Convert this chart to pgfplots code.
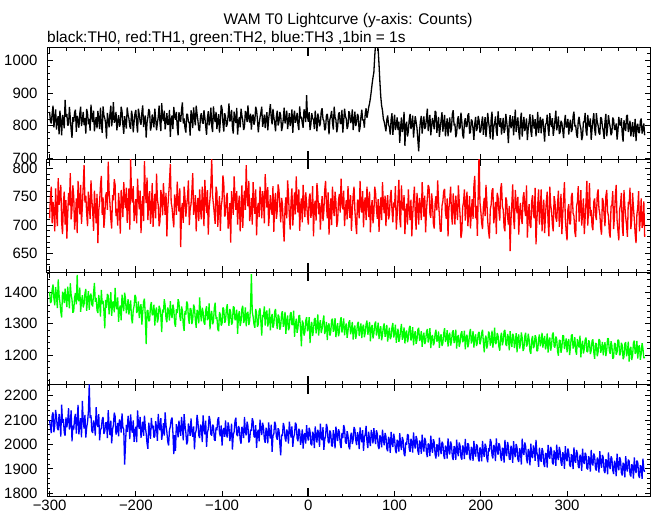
\documentclass[border=0pt]{standalone}
\usepackage{pgfplots}
\usepackage{pgfplotstable}
\pgfplotsset{compat=1.18}
\usepackage{fontspec}
\setmainfont{Liberation Sans}

\pgfplotstableread{
x a b c d
-300 842 712 1402 2098
-299 813 751 1366 2072
-298 807 768 1371 2046
-297 838 703 1409 2119
-296 861 741 1425 2131
-295 795 727 1381 2050
-294 822 689 1359 2077
-293 850 765 1417 2141
-292 788 722 1388 2112
-291 817 698 1350 2067
-290 829 783 1441 2058
-289 774 736 1393 2125
-288 846 748 1367 2089
-287 810 771 1338 2032
-286 771 705 1320 2163
-285 833 684 1402 2088
-284 815 739 1395 2104
-283 792 759 1366 2049
-282 879 701 1412 2036
-281 827 744 1380 2110
-280 836 676 1353 2070
-279 801 718 1418 2096
-278 803 757 1386 2148
-277 857 735 1349 2061
-276 824 792 1429 2082
-275 789 710 1392 2139
-274 763 729 1377 2013
-273 826 770 1335 2077
-272 812 751 1341 2061
-271 840 692 1384 2108
-270 849 714 1398 2125
-269 781 747 1362 2044
-268 830 686 1456 2094
-267 818 778 1378 2162
-266 794 744 1372 2041
-265 837 719 1415 2083
-264 858 771 1338 2107
-263 799 702 1370 2029
-262 817 733 1391 2178
-261 842 769 1352 2097
-260 802 806 1363 2065
-259 823 740 1397 2121
-258 776 752 1411 2028
-257 851 721 1341 2069
-256 838 698 1378 2091
-255 804 759 1404 2134
-254 821 737 1344 2245
-253 785 711 1388 2108
-252 864 779 1396 2119
-251 828 745 1361 2055
-250 811 724 1355 2047
-249 846 690 1399 2098
-248 783 761 1430 2083
-247 809 732 1370 2036
-246 826 703 1382 2152
-245 792 755 1343 2089
-244 845 668 1334 2071
-243 819 726 1392 2124
-242 790 741 1367 2017
-241 855 770 1323 2060
-240 808 787 1408 2066
-239 778 718 1364 2101
-238 859 749 1373 2112
-237 831 695 1340 2043
-236 823 716 1285 2054
-235 806 752 1376 2088
-234 761 758 1351 2090
-233 839 727 1395 2026
-232 818 812 1389 2140
-231 795 760 1330 2075
-230 837 738 1362 2038
-229 861 711 1401 2097
-228 798 694 1325 2004
-227 824 753 1367 2061
-226 872 744 1371 2079
-225 809 781 1336 2130
-224 816 771 1414 2115
-223 842 716 1359 2040
-222 786 729 1346 2057
-221 814 699 1384 2088
-220 832 757 1306 2033
-219 797 734 1349 2102
-218 805 685 1358 2094
-217 858 762 1311 2048
-216 844 742 1393 2127
-215 803 714 1362 2070
-214 775 776 1340 2062
-213 829 745 1399 1917
-212 813 730 1381 1998
-211 791 766 1333 2080
-210 856 704 1352 2051
-209 833 737 1378 2117
-208 822 765 1329 2086
-207 798 692 1356 2022
-206 791 818 1374 2123
-205 846 751 1318 2066
-204 829 740 1301 2048
-203 780 769 1343 2098
-202 811 707 1357 2011
-201 837 724 1392 2054
-200 848 746 1385 2072
-199 806 703 1334 2009
-198 779 782 1343 2139
-197 852 749 1371 2083
-196 834 728 1318 2064
-195 813 761 1350 2112
-194 803 686 1362 2027
-193 840 730 1297 2062
-192 862 751 1337 2093
-191 796 707 1370 2035
-190 819 813 1380 2118
-189 831 759 1322 2071
-188 764 739 1235 2045
-187 809 784 1341 2004
-186 826 709 1343 1982
-185 851 743 1308 2089
-184 843 760 1311 2056
-183 785 702 1356 2023
-182 798 726 1369 2108
-181 834 774 1327 2066
-180 817 697 1332 2077
-179 795 738 1361 2028
-178 852 755 1294 2033
-177 823 712 1339 2095
-176 786 791 1352 2069
-175 808 746 1304 2015
-174 827 735 1316 2125
-173 861 698 1357 2072
-172 809 706 1348 2058
-171 784 762 1325 2107
-170 869 749 1273 2019
-169 826 717 1345 2049
-168 814 774 1336 2087
-167 846 743 1378 2036
-166 789 718 1359 2131
-165 812 757 1316 2078
-164 838 680 1305 2050
-163 803 729 1352 2011
-162 805 752 1341 1996
-161 848 776 1310 2059
-160 766 808 1372 2073
-159 819 740 1333 2101
-158 831 731 1318 2110
-157 790 712 1361 2047
-156 857 696 1347 1960
-155 830 754 1302 2038
-154 818 743 1290 1974
-153 842 718 1346 2083
-152 796 777 1334 2066
-151 771 741 1378 2029
-150 841 724 1368 2097
-149 823 765 1323 2060
-148 812 661 1309 2035
-147 849 727 1355 2112
-146 871 739 1342 2071
-145 807 704 1296 2017
-144 822 768 1277 2124
-143 793 749 1340 2078
-142 779 715 1329 2049
-141 836 735 1371 2000
-140 834 751 1363 2012
-139 812 779 1318 2086
-138 809 700 1300 2064
-137 770 728 1349 2035
-136 847 737 1347 2106
-135 828 761 1299 2052
-134 793 792 1314 2031
-133 856 718 1361 2074
-132 823 729 1352 1980
-131 801 753 1312 2045
-130 861 689 1287 2058
-129 836 734 1344 2121
-128 815 748 1336 2093
-127 788 707 1301 2037
-126 784 763 1384 2026
-125 829 726 1332 2081
-124 838 710 1308 2072
-123 812 768 1351 2010
-122 806 741 1338 2119
-121 847 698 1304 2062
-120 826 780 1297 2041
-119 799 745 1342 2097
-118 772 721 1356 1990
-117 823 762 1311 2048
-116 844 683 1319 2063
-115 801 730 1365 2116
-114 817 746 1282 2101
-113 855 771 1326 2042
-112 799 817 1341 2036
-111 781 752 1298 2081
-110 859 736 1306 2074
-109 826 720 1350 2020
-108 811 702 1367 2015
-107 842 768 1315 2069
-106 790 759 1321 2058
-105 816 697 1283 2102
-104 835 728 1276 2111
-103 779 751 1337 2047
-102 814 690 1329 2033
-101 863 733 1294 2078
-100 852 744 1301 1995
-99 807 788 1352 2054
-98 782 773 1346 2067
-97 838 715 1303 2031
-96 828 719 1309 2098
-95 797 749 1346 2043
-94 805 757 1362 2028
-93 830 694 1318 2090
-92 868 708 1293 2071
-91 813 739 1347 2014
-90 819 669 1336 2040
-89 848 760 1297 2085
-88 795 742 1304 1979
-87 776 718 1355 2039
-86 843 786 1352 2052
-85 820 749 1311 2096
-84 808 727 1318 2109
-83 854 760 1345 2041
-82 773 701 1268 2034
-81 809 735 1326 2075
-80 827 752 1340 2066
-79 795 689 1293 2019
-78 852 723 1307 2003
-77 831 770 1348 2072
-76 816 695 1357 2059
-75 787 741 1302 2026
-74 797 761 1313 2112
-73 845 727 1352 2051
-72 835 806 1292 2037
-71 811 750 1331 2093
-70 862 733 1338 2075
-69 822 778 1296 2008
-68 810 707 1309 2018
-67 837 722 1352 2060
-66 788 748 1458 2056
-65 826 701 1338 2107
-64 834 776 1322 2094
-63 803 741 1298 2032
-62 815 720 1287 2029
-61 858 763 1347 2079
-60 847 682 1333 1986
-59 819 729 1290 2047
-58 780 739 1298 2060
-57 806 714 1341 2013
-56 825 768 1349 2101
-55 840 748 1305 2062
-54 858 712 1262 2038
-53 797 760 1328 2089
-52 812 746 1321 2070
-51 834 703 1355 2022
-50 793 790 1294 2007
-49 822 756 1336 2068
-48 841 731 1342 2047
-47 786 767 1291 2004
-46 819 698 1308 2090
-45 843 724 1349 2045
-44 866 753 1279 2024
-43 825 730 1316 2081
-42 804 718 1331 1970
-41 851 769 1287 2035
-40 827 688 1297 2043
-39 808 741 1338 2093
-38 783 757 1347 2082
-37 829 711 1306 2030
-36 846 726 1283 2019
-35 801 772 1329 2066
-34 812 761 1322 2058
-33 842 733 1281 2001
-32 831 705 1293 1955
-31 784 748 1332 2040
-30 797 737 1340 2035
-29 821 697 1290 2088
-28 855 671 1303 2071
-27 807 731 1338 2026
-26 822 749 1268 2012
-25 846 712 1312 2061
-24 790 779 1326 2049
-23 815 754 1279 2003
-22 838 716 1288 2093
-21 799 692 1330 2057
-20 813 743 1337 2028
-19 850 765 1296 2074
-18 778 699 1299 1990
-17 826 728 1342 2030
-16 846 758 1258 2042
-15 809 719 1297 2089
-14 818 786 1316 2081
-13 839 740 1271 2025
-12 803 722 1287 2013
-11 787 763 1325 2064
-10 859 690 1327 2055
-9 822 731 1281 1998
-8 827 747 1228 2022
-7 808 705 1310 2061
-6 794 771 1302 1983
-5 850 736 1262 2038
-4 836 714 1273 2046
-3 811 758 1310 2003
-2 893 739 1321 2079
-1 829 717 1276 2035
0 812 701 1289 2016
1 841 748 1321 2068
2 787 756 1238 2053
3 805 713 1287 2002
4 838 727 1306 1996
5 822 769 1261 2052
6 819 680 1279 2040
7 790 734 1314 1985
8 846 743 1318 2074
9 815 708 1269 2037
10 783 774 1291 2008
11 837 755 1330 2060
12 825 719 1262 2043
13 798 739 1296 1990
14 807 692 1311 2085
15 844 729 1270 2029
16 853 751 1284 2017
17 820 707 1309 2071
18 815 724 1326 1978
19 786 761 1267 2020
20 792 778 1279 2034
21 831 736 1306 2084
22 836 712 1248 2068
23 812 758 1293 2011
24 774 683 1301 2005
25 819 722 1262 2057
26 829 747 1273 2046
27 845 700 1311 1995
28 810 768 1316 1992
29 788 733 1274 2058
30 858 716 1286 2031
31 826 759 1318 1984
32 818 741 1257 2073
33 780 697 1283 2040
34 797 707 1302 2014
35 835 744 1260 2062
36 841 755 1273 2050
37 807 722 1306 2001
38 806 782 1321 1985
39 848 739 1272 2047
40 779 728 1290 2026
41 813 761 1317 2079
42 852 698 1263 2065
43 829 727 1289 2010
44 821 744 1301 2003
45 790 710 1255 2054
46 799 769 1276 2037
47 844 737 1304 1991
48 837 713 1311 1980
49 808 753 1266 2035
50 816 690 1281 2048
51 850 727 1306 2002
52 787 752 1249 2019
53 814 768 1283 2071
54 843 726 1294 2061
55 799 703 1252 2018
56 811 684 1269 1997
57 836 745 1299 2050
58 828 741 1306 2034
59 781 712 1261 1981
60 795 778 1279 2070
61 826 734 1301 2026
62 849 722 1254 2009
63 817 760 1288 2058
64 818 696 1297 1974
65 794 738 1257 2028
66 837 749 1271 2041
67 853 709 1299 2076
68 824 768 1310 2012
69 839 741 1265 1985
70 856 714 1282 2052
71 868 759 1306 2017
72 884 687 1244 1993
73 905 730 1287 2059
74 928 744 1296 2035
75 947 703 1253 2004
76 963 720 1268 2066
77 1012 768 1298 2029
78 1050 757 1307 2001
79 1050 729 1262 2058
80 1050 711 1276 2043
81 1032 746 1303 1992
82 986 688 1251 1981
83 934 727 1279 2037
84 889 749 1292 2027
85 861 709 1247 1988
86 847 776 1264 2060
87 821 738 1290 2021
88 812 721 1301 1996
89 798 752 1258 2047
90 783 698 1274 2033
91 818 737 1296 1983
92 831 753 1243 1972
93 804 710 1268 2031
94 796 718 1287 2018
95 773 749 1251 1966
96 819 762 1258 2051
97 838 727 1289 2008
98 772 705 1302 1989
99 806 740 1256 2044
100 834 731 1270 2024
101 787 769 1297 1978
102 801 692 1239 1964
103 825 718 1266 2019
104 787 747 1284 2008
105 812 780 1242 1971
106 748 713 1253 2046
107 795 696 1280 2000
108 825 770 1299 1977
109 781 731 1249 2030
110 796 726 1262 2016
111 842 753 1288 1962
112 739 684 1237 1952
113 801 722 1271 2008
114 812 738 1278 1999
115 767 701 1241 2042
116 783 763 1254 2037
117 819 728 1287 1981
118 836 709 1293 1970
119 790 745 1246 2023
120 804 680 1259 2011
121 831 717 1289 1967
122 764 746 1231 2049
123 799 768 1264 2002
124 829 719 1276 1983
125 811 692 1236 2034
126 793 757 1248 2021
127 757 733 1281 1974
128 722 701 1287 1958
129 786 748 1245 2016
130 814 734 1253 2004
131 830 709 1276 1962
132 776 776 1226 2040
133 808 741 1259 1993
134 828 715 1271 1971
135 790 752 1235 2027
136 797 687 1244 2013
137 823 725 1274 1966
138 852 748 1283 1948
139 784 771 1240 2004
140 808 766 1255 1997
141 833 720 1286 1952
142 771 713 1222 2036
143 799 756 1258 1989
144 824 739 1264 1966
145 806 703 1231 2021
146 789 694 1239 2009
147 845 738 1268 1960
148 841 751 1281 1942
149 778 726 1243 2000
150 803 779 1248 1994
151 827 741 1275 1950
152 766 716 1223 2028
153 793 689 1257 1982
154 818 689 1266 1961
155 841 734 1229 2011
156 782 742 1238 2003
157 809 760 1270 1956
158 833 764 1286 1940
159 768 722 1242 1995
160 797 711 1251 1988
161 822 747 1279 1942
162 768 680 1227 2025
163 804 729 1260 1978
164 825 745 1271 1959
165 779 768 1230 2012
166 792 719 1243 1998
167 836 701 1272 1951
168 847 756 1279 1936
169 801 733 1238 1993
170 806 701 1253 1983
171 765 752 1281 1937
172 777 730 1221 2019
173 818 709 1257 1970
174 829 770 1264 1952
175 790 741 1226 2008
176 794 716 1240 1994
177 840 677 1268 1947
178 813 688 1276 1938
179 772 732 1241 1996
180 761 741 1249 1985
181 810 763 1278 1940
182 823 708 1218 2023
183 797 739 1256 1973
184 798 759 1265 1957
185 832 698 1225 2005
186 838 723 1237 1997
187 776 751 1270 1946
188 781 694 1283 1935
189 819 722 1237 1990
190 814 746 1250 1978
191 790 711 1276 1933
192 757 769 1224 2014
193 806 787 1255 1968
194 827 712 1266 1950
195 784 734 1229 2001
196 793 681 1239 1993
197 830 755 1268 1946
198 816 830 1274 1930
199 779 741 1234 1988
200 784 725 1246 1976
201 809 704 1270 1931
202 828 693 1281 2014
203 772 733 1240 1967
204 802 748 1209 1949
205 826 716 1252 2003
206 766 771 1262 1991
207 797 742 1221 1944
208 839 707 1236 1927
209 812 689 1275 1985
210 792 676 1269 1971
211 761 728 1230 2022
212 819 736 1244 2009
213 843 761 1278 1955
214 758 765 1224 1943
215 796 703 1251 1998
216 807 719 1287 1987
217 828 741 1235 1932
218 783 684 1239 2025
219 769 757 1270 1976
220 844 750 1262 1958
221 811 725 1226 2005
222 797 708 1214 1996
223 823 764 1258 1949
224 773 774 1271 1932
225 801 733 1231 1986
226 824 727 1245 1981
227 778 696 1276 1926
228 789 689 1280 2018
229 836 749 1234 1971
230 813 743 1229 1952
231 786 715 1267 2010
232 747 701 1256 1992
233 810 734 1215 1940
234 832 654 1276 1938
235 792 709 1241 1995
236 803 738 1226 1977
237 829 772 1268 1925
238 771 712 1260 2013
239 806 693 1222 1964
240 849 762 1241 1948
241 781 739 1270 2002
242 806 721 1209 1988
243 825 750 1254 1939
244 782 683 1266 1928
245 758 724 1221 1984
246 818 739 1235 1971
247 840 711 1272 1918
248 767 702 1255 2024
249 800 749 1213 1969
250 827 758 1221 1957
251 784 727 1260 2008
252 797 716 1271 1993
253 822 770 1227 1942
254 756 678 1234 1923
255 793 716 1268 1981
256 812 737 1250 1967
257 835 700 1212 1914
258 784 695 1204 2003
259 766 742 1249 1952
260 833 753 1261 1944
261 809 719 1222 1996
262 791 712 1229 1982
263 820 766 1263 1933
264 768 666 1256 2018
265 797 708 1213 1967
266 842 736 1214 1951
267 778 763 1252 1908
268 803 701 1266 1987
269 827 727 1228 1945
270 777 763 1240 1929
271 815 689 1271 1985
272 821 722 1224 1972
273 786 745 1247 1921
274 752 686 1261 1908
275 804 717 1218 1964
276 807 742 1233 1962
277 834 759 1269 1905
278 791 705 1208 1998
279 769 680 1246 1954
280 838 768 1256 1941
281 812 735 1214 1990
282 796 726 1229 1977
283 823 701 1265 1926
284 769 689 1272 1918
285 791 751 1228 1975
286 817 741 1224 1962
287 846 713 1259 1912
288 786 706 1251 1999
289 802 738 1212 1951
290 828 761 1198 1936
291 775 697 1248 1990
292 781 722 1246 1972
293 815 755 1207 1926
294 808 684 1224 1913
295 787 719 1263 1968
296 762 747 1261 1957
297 810 776 1219 1900
298 833 711 1234 1993
299 795 689 1253 1944
300 797 673 1209 1931
301 821 728 1240 1983
302 773 737 1251 1967
303 804 702 1200 1917
304 818 702 1226 1908
305 781 750 1262 1960
306 789 757 1266 1952
307 829 721 1221 1899
308 843 716 1230 1988
309 798 688 1257 1939
310 802 679 1214 1925
311 774 733 1201 1977
312 763 741 1251 1962
313 816 769 1234 1910
314 827 706 1224 1903
315 802 725 1262 1958
316 791 762 1193 1947
317 756 699 1231 1892
318 768 721 1246 1983
319 812 747 1205 1931
320 812 684 1219 1920
321 839 713 1249 1966
322 784 742 1256 1957
323 770 778 1211 1902
324 833 699 1210 1898
325 805 731 1247 1952
326 796 774 1241 1941
327 822 716 1203 1889
328 757 727 1214 1978
329 790 698 1245 1929
330 817 691 1250 1914
331 838 741 1209 1963
332 789 747 1188 1951
333 770 718 1238 1901
334 838 709 1236 1893
335 812 754 1196 1946
336 801 763 1209 1936
337 778 729 1251 1885
338 773 720 1246 1972
339 826 695 1207 1925
340 822 683 1219 1904
341 798 748 1242 1957
342 784 742 1199 1946
343 760 717 1226 1892
344 813 698 1241 1883
345 836 751 1197 1939
346 768 762 1215 1931
347 793 724 1253 1878
348 832 716 1252 1967
349 811 687 1214 1918
350 796 678 1204 1899
351 771 733 1244 1951
352 779 736 1231 1942
353 825 760 1188 1895
354 818 693 1193 1879
355 788 716 1238 1933
356 789 752 1236 1921
357 807 771 1201 1870
358 758 709 1209 1962
359 784 690 1249 1912
360 827 673 1246 1894
361 803 728 1199 1948
362 801 736 1205 1937
363 823 757 1239 1884
364 774 699 1231 1873
365 752 681 1187 1925
366 817 762 1194 1916
367 794 734 1236 1865
368 784 714 1241 1952
369 829 700 1196 1904
370 833 679 1210 1889
371 781 741 1243 1938
372 794 737 1179 1932
373 815 766 1218 1878
374 768 693 1226 1869
375 790 709 1184 1919
376 811 757 1199 1911
377 766 730 1239 1860
378 786 710 1246 1947
379 821 684 1204 1898
380 753 668 1210 1883
381 797 719 1245 1934
382 806 731 1189 1927
383 779 760 1226 1874
384 779 689 1231 1863
385 814 712 1185 1915
386 822 747 1204 1906
387 776 695 1238 1859
388 789 703 1221 1942
389 807 742 1190 1897
390 771 679 1194 1888
}\lcdata

\pgfplotsset{
  panel/.style={
    scale only axis, width=603.7bp, height=112.5bp, anchor=north west,
    xmin=-303, xmax=397,
    axis line style={line width=1bp},
    every tick/.style={line width=0.8bp, black},
    major tick length=6bp, minor tick length=3.5bp,
    tick align=inside,
    xtick={-300,-200,...,300},
    minor xtick={-280,-260,...,380},
    xticklabels={},
    extra x ticks={0},
    extra x tick labels={},
    extra x tick style={major tick length=9bp, every tick/.style={line width=2.2bp, black}},
    tick label style={font=\fontsize{15}{15}\selectfont},
    /pgf/number format/assume math mode=true,
    /pgf/number format/set thousands separator={},
    yticklabel style={xshift=-6bp},
    clip=true,
  },
  curve/.style={line width=1.3bp, mark=none, line join=bevel},
}

\begin{document}
\begin{tikzpicture}
\useasboundingbox (0,0) rectangle (652bp,-515bp);
\node[font=\fontsize{15.5}{16}\selectfont, anchor=base] at (348bp,-24.5bp) {WAM T0 Lightcurve (y-axis: Counts)};
\node[font=\fontsize{15.5}{16}\selectfont, anchor=base west, inner sep=0pt] at (47bp,-42.5bp) {black:TH0, red:TH1, green:TH2, blue:TH3 ,1bin = 1s};

\begin{axis}[panel, at={(47bp,-47bp)}, ymin=697, ymax=1040,
  ytick={700,800,900,1000}, minor ytick={720,740,...,1040}]
\addplot[curve, black] table[x=x, y=a] {\lcdata};
\end{axis}

\begin{axis}[panel, at={(47bp,-159.5bp)}, ymin=617, ymax=816,
  ytick={650,700,750,800}, minor ytick={620,630,...,810}]
\addplot[curve, red] table[x=x, y=b] {\lcdata};
\end{axis}

\begin{axis}[panel, at={(47bp,-272bp)}, ymin=1106, ymax=1465,
  ytick={1200,1300,1400}, minor ytick={1120,1140,...,1460}]
\addplot[curve, color={rgb,255:red,0;green,255;blue,0}] table[x=x, y=c] {\lcdata};
\end{axis}

\begin{axis}[panel, at={(47bp,-384.5bp)}, ymin=1785, ymax=2245,
  ytick={1800,1900,2000,2100,2200}, minor ytick={1800,1820,...,2240},
  xticklabels={−300,−200,−100,0,100,200,300}]
\addplot[curve, blue] table[x=x, y=d] {\lcdata};
\end{axis}
\end{tikzpicture}
\end{document}
